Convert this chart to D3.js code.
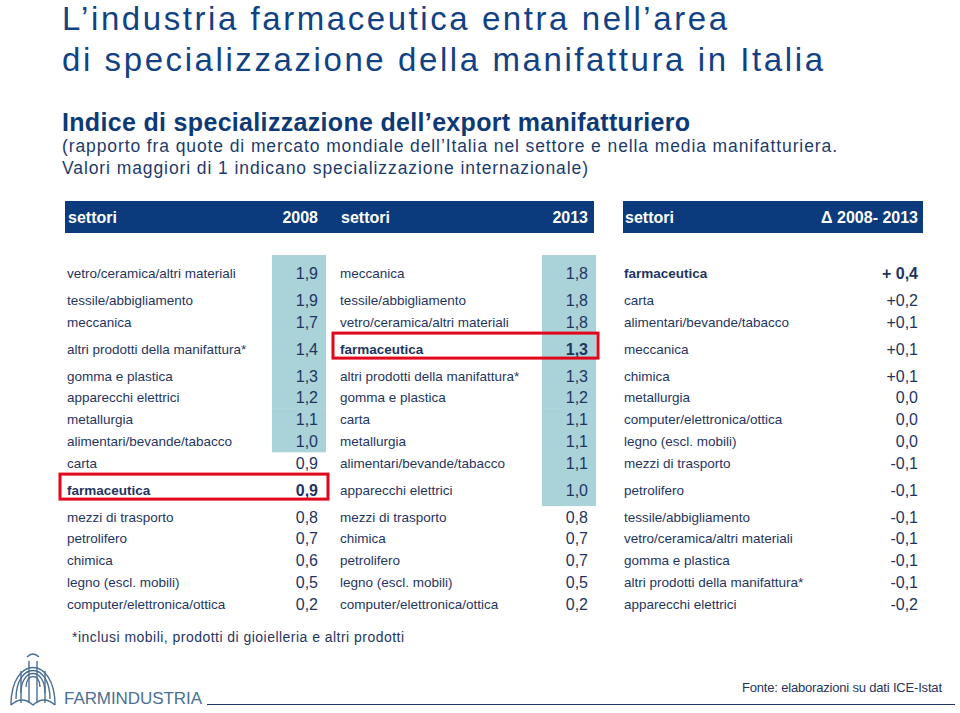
<!DOCTYPE html>
<html>
<head>
<meta charset="utf-8">
<script src="https://cdnjs.cloudflare.com/ajax/libs/d3/7.8.5/d3.min.js"></script>
<style>
  html, body { margin: 0; padding: 0; background: #fff; }
  svg { display: block; font-family: "Liberation Sans", Arial, sans-serif; }
</style>
</head>
<body>
<svg id="chart" width="960" height="713"></svg>
<script>
// ---------------- DATA ----------------
const titleLines = ["L\u2019industria farmaceutica entra nell\u2019area", "di specializzazione della manifattura in Italia"];
const subtitle = "Indice di specializzazione dell\u2019export manifatturiero";
const noteLines = ["(rapporto fra quote di mercato mondiale dell\u2019Italia nel settore e nella media manifatturiera.",
                   "Valori maggiori di 1 indicano specializzazione internazionale)"];
const headers = [["settori", "2008"], ["settori", "2013"], ["settori", "\u0394 2008- 2013"]];

const sectors2008 = ["vetro/ceramica/altri materiali", "tessile/abbigliamento", "meccanica",
  "altri prodotti della manifattura*", "gomma e plastica", "apparecchi elettrici", "metallurgia",
  "alimentari/bevande/tabacco", "carta", "farmaceutica", "mezzi di trasporto", "petrolifero",
  "chimica", "legno (escl. mobili)", "computer/elettronica/ottica"];
const values2008 = [1.9, 1.9, 1.7, 1.4, 1.3, 1.2, 1.1, 1.0, 0.9, 0.9, 0.8, 0.7, 0.6, 0.5, 0.2];

const sectors2013 = ["meccanica", "tessile/abbigliamento", "vetro/ceramica/altri materiali",
  "farmaceutica", "altri prodotti della manifattura*", "gomma e plastica", "carta", "metallurgia",
  "alimentari/bevande/tabacco", "apparecchi elettrici", "mezzi di trasporto", "chimica",
  "petrolifero", "legno (escl. mobili)", "computer/elettronica/ottica"];
const values2013 = [1.8, 1.8, 1.8, 1.3, 1.3, 1.2, 1.1, 1.1, 1.1, 1.0, 0.8, 0.7, 0.7, 0.5, 0.2];

const sectorsDelta = ["farmaceutica", "carta", "alimentari/bevande/tabacco", "meccanica", "chimica",
  "metallurgia", "computer/elettronica/ottica", "legno (escl. mobili)", "mezzi di trasporto",
  "petrolifero", "tessile/abbigliamento", "vetro/ceramica/altri materiali", "gomma e plastica",
  "altri prodotti della manifattura*", "apparecchi elettrici"];
const valuesDelta = [0.4, 0.2, 0.1, 0.1, 0.1, 0.0, 0.0, 0.0, -0.1, -0.1, -0.1, -0.1, -0.1, -0.1, -0.2];

const footnote = "*inclusi mobili, prodotti di gioielleria e altri prodotti";
const sourceText = "Fonte: elaborazioni su dati ICE-Istat";
const brand = "FARMINDUSTRIA";
const focus = "farmaceutica";

// ---------------- STYLE ----------------
const C = {
  title: "#124283", sub: "#0d3a74", note: "#1d3b6b", text: "#1f3561",
  bar: "#0b3b7d", cell: "#a9d3d8", red: "#e1061b", brand: "#4a6f94"
};

const svg = d3.select("#chart");

function fitText(sel, w) {
  sel.attr("textLength", w).attr("lengthAdjust", "spacing");
}

// Titles
svg.selectAll("text.title").data(titleLines).join("text")
  .attr("class", "title")
  .attr("x", 62).attr("y", (d, i) => 30 + i * 41)
  .attr("font-size", 33).attr("fill", C.title)
  .text(d => d)
  .each(function(d, i) { fitText(d3.select(this), [665, 761][i]); });

svg.append("text").attr("x", 62).attr("y", 131)
  .attr("font-size", 25).attr("font-weight", "bold").attr("fill", C.sub)
  .text(subtitle).call(fitText, 628);

svg.selectAll("text.note").data(noteLines).join("text")
  .attr("class", "note")
  .attr("x", 62).attr("y", (d, i) => 152 + i * 22)
  .attr("font-size", 17.5).attr("fill", C.note)
  .text(d => d)
  .each(function(d, i) { fitText(d3.select(this), [775, 526][i]); });

// ---------------- TABLE LAYOUT ----------------
const columns = [
  { sectors: sectors2008, values: values2008, fmt: v => d3.format(".1f")(v).replace(".", ","), shade: true, box: true,
    labelX: 67, valueR: 318, barX0: 65, barX1: 330 },
  { sectors: sectors2013, values: values2013, fmt: v => d3.format(".1f")(v).replace(".", ","), shade: true, box: true,
    labelX: 340, valueR: 588, barX0: 330, barX1: 594 },
  { sectors: sectorsDelta, values: valuesDelta,
    fmt: (v, bold) => (v > 0 ? (bold ? "+ " : "+") : "") + d3.format(".1f")(v).replace(".", ",").replace("\u2212", "-"),
    shade: false, box: false, labelX: 624, valueR: 918, barX0: 623, barX1: 923 }
];

const nRows = sectors2008.length;
const rowIdx = d3.range(nRows);
const isTall = rowIdx.map(i => columns.some(c => c.sectors[i] === focus));
const heights = isTall.map(t => t ? 32 : 21.8);
const tableTop = 257;
const tops = [tableTop, ...d3.cumsum(heights).map(h => tableTop + h)];
const rowTop = i => tops[i];
const rowMid = i => tops[i] + heights[i] / 2;

// Header bars
const hdr = svg.append("g");
columns.forEach((c, ci) => {
  hdr.append("rect").attr("x", c.barX0).attr("y", 201)
    .attr("width", c.barX1 - c.barX0).attr("height", 32).attr("fill", C.bar);
  hdr.append("text").attr("x", c.labelX + 1).attr("y", 223)
    .attr("font-size", 16).attr("font-weight", "bold").attr("fill", "#fff")
    .text(headers[ci][0]);
  hdr.append("text").attr("x", c.valueR).attr("y", 223).attr("text-anchor", "end")
    .attr("font-size", 16).attr("font-weight", "bold").attr("fill", "#fff")
    .text(headers[ci][1]);
});

// Cells
columns.forEach(c => {
  const g = svg.append("g");
  if (c.shade) {
    g.selectAll("rect.cell").data(rowIdx.filter(i => c.values[i] >= 1)).join("rect")
      .attr("class", "cell")
      .attr("x", c.valueR - 46).attr("width", 54)
      .attr("y", i => rowTop(i) - (i === 0 ? 2 : 0))
      .attr("height", i => heights[i] + (i === 0 ? 2 : 0) + 0.5)
      .attr("fill", C.cell);
  }
  g.selectAll("text.lab").data(rowIdx).join("text")
    .attr("class", "lab")
    .attr("x", c.labelX).attr("y", i => rowMid(i) + 5)
    .attr("font-size", 13.5)
    .attr("font-weight", i => c.sectors[i] === focus ? "bold" : "normal")
    .attr("fill", C.text)
    .text(i => c.sectors[i]);
  g.selectAll("text.val").data(rowIdx).join("text")
    .attr("class", "val")
    .attr("x", c.valueR).attr("y", i => rowMid(i) + 6)
    .attr("text-anchor", "end")
    .attr("font-size", 16)
    .attr("font-weight", i => c.sectors[i] === focus ? "bold" : "normal")
    .attr("fill", C.text)
    .text(i => c.fmt(c.values[i], c.sectors[i] === focus));
  if (c.box) {
    g.selectAll("rect.box").data(rowIdx.filter(i => c.sectors[i] === focus)).join("rect")
      .attr("class", "box")
      .attr("x", c.labelX - 7).attr("y", i => rowTop(i) + 0.5)
      .attr("width", c.valueR + 10 - (c.labelX - 7)).attr("height", 25)
      .attr("fill", "none").attr("stroke", C.red).attr("stroke-width", 3);
  }
});

// Footnote
svg.append("text").attr("x", 72).attr("y", 642)
  .attr("font-size", 14).attr("fill", C.text).text(footnote).call(fitText, 332);

// Logo (stylised shell mark)
const logo = svg.append("g").attr("transform", "translate(33,681)")
  .attr("fill", "none").attr("stroke", C.brand).attr("stroke-width", 1.4);
[[22, 26], [17, 20], [12, 14], [7, 8]].forEach(([rx, ry]) => {
  logo.append("path").attr("d", `M${-rx},${ry - 2} C${-rx},${-ry} ${rx},${-ry} ${rx},${ry - 2}`);
});
logo.append("path").attr("d", "M-22,24 Q-11,14 0,24 Q11,14 22,24");
logo.append("path").attr("d", "M-4,-20 L-4,22 M4,-20 L4,22 M-12,-10 L-12,22 M12,-10 L12,22");
logo.append("path").attr("d", "M-6,-24 Q0,-30 6,-24");

svg.append("text").attr("x", 64).attr("y", 704)
  .attr("font-size", 17).attr("fill", C.brand).text(brand).call(fitText, 138);
svg.append("line").attr("x1", 207).attr("x2", 955).attr("y1", 704.5).attr("y2", 704.5)
  .attr("stroke", C.text).attr("stroke-width", 1);
svg.append("text").attr("x", 742).attr("y", 692)
  .attr("font-size", 13).attr("fill", C.text).text(sourceText).call(fitText, 200);
</script>
</body>
</html>
